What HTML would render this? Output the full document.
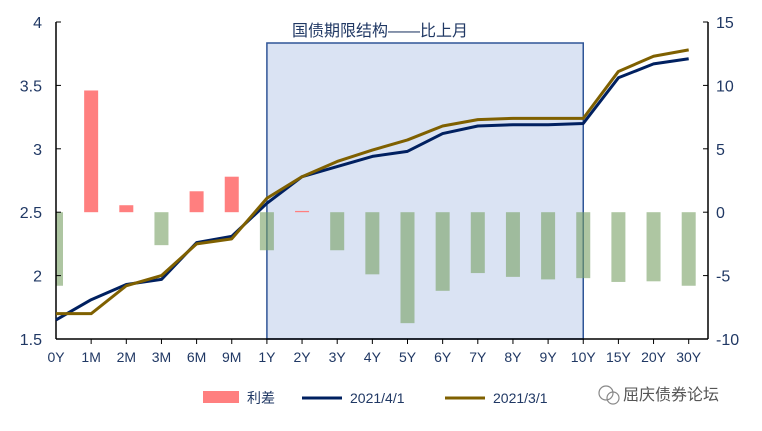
<!DOCTYPE html>
<html><head><meta charset="utf-8">
<style>
body{margin:0;background:#fff;}
svg text{font-family:"Liberation Sans","Noto Sans CJK SC",sans-serif;}
</style></head>
<body>
<svg id="c" width="762" height="426" xmlns="http://www.w3.org/2000/svg"></svg>
<script>
const categories=["0Y","1M","2M","3M","6M","9M","1Y","2Y","3Y","4Y","5Y","6Y","7Y","8Y","9Y","10Y","15Y","20Y","30Y"];
const spread=[-5.8,9.6,0.55,-2.6,1.65,2.8,-3.0,0.1,-3.0,-4.9,-8.75,-6.2,-4.8,-5.1,-5.3,-5.2,-5.5,-5.45,-5.8];
const apr=[1.65,1.81,1.93,1.97,2.26,2.31,2.57,2.78,2.86,2.94,2.98,3.12,3.18,3.19,3.19,3.20,3.56,3.67,3.71];
const mar=[1.70,1.70,1.92,2.00,2.25,2.29,2.61,2.78,2.90,2.99,3.07,3.18,3.23,3.24,3.24,3.24,3.61,3.73,3.78];
const leftTicks=["1.5","2","2.5","3","3.5","4"];
const rightTicks=["-10","-5","0","5","10","15"];
const NS="http://www.w3.org/2000/svg";
const svg=document.getElementById('c');
const X0=56,STEP=35.15,TOP=22,BOT=339,XR=708;
const xs=i=>X0+i*STEP;
const yl=v=>BOT-(v-1.5)/2.5*(BOT-TOP);
const yr=v=>BOT-(v+10)/25*(BOT-TOP);
function mk(t,a,p){const e=document.createElementNS(NS,t);for(const k in a)e.setAttribute(k,a[k]);(p||svg).appendChild(e);return e;}
// highlight box
const box=mk('rect',{x:xs(6),y:43,width:xs(15)-xs(6),height:BOT-43,fill:'#dae3f3',stroke:'#2f5597','stroke-width':1.5});


const tt=mk('text',{x:380,y:36,'text-anchor':'middle','font-size':16,fill:'#203864'});
tt.textContent='国债期限结构——比上月';


// bars
const clip=mk('clipPath',{id:'pc'});mk('rect',{x:X0,y:0,width:XR-X0,height:426},clip);
spread.forEach((v,i)=>{
 const y0=yr(0),y1=yr(v);
 const r=mk('rect',{x:xs(i)-7,y:Math.min(y0,y1),width:14,height:Math.max(1,Math.abs(y1-y0)),fill:v>=0?'#ff7f7f':'rgba(120,160,100,0.6)','clip-path':'url(#pc)'});
 
 
});
// axes
mk('line',{x1:X0,y1:TOP,x2:X0,y2:BOT,stroke:'#000','stroke-width':1.5});
mk('line',{x1:XR,y1:TOP,x2:XR,y2:BOT,stroke:'#000','stroke-width':1.5});
mk('line',{x1:X0,y1:BOT,x2:XR,y2:BOT,stroke:'#000','stroke-width':1.5});
leftTicks.forEach(t=>{const y=yl(+t);mk('line',{x1:X0,y1:y,x2:X0+5,y2:y,stroke:'#000'});
 const e=mk('text',{x:42,y:y+6,'text-anchor':'end','font-size':16,fill:'#203864'});e.textContent=t;
 });
rightTicks.forEach(t=>{const y=yr(+t);mk('line',{x1:XR-5,y1:y,x2:XR,y2:y,stroke:'#000'});
 const e=mk('text',{x:716,y:y+6,'font-size':16,fill:'#203864'});e.textContent=t;
 });
categories.forEach((c,i)=>{if(i>0)mk('line',{x1:xs(i),y1:BOT,x2:xs(i),y2:BOT+5,stroke:'#000'});
 const e=mk('text',{x:xs(i),y:362,'text-anchor':'middle','font-size':14,fill:'#203864'});e.textContent=c;
 });
// lines
function line(d,col,name){const p=mk('polyline',{points:d.map((v,i)=>xs(i)+','+yl(v)).join(' '),fill:'none',stroke:col,'stroke-width':3,'stroke-linejoin':'round'});
 }
line(apr,'#002060','line-2021-4-1');
line(mar,'#7f6000','line-2021-3-1');
// legend
const lg=mk('g',{});
mk('rect',{x:203,y:391,width:36,height:12,fill:'#ff7f7f'},lg);
let t=mk('text',{x:247,y:403,'font-size':14,fill:'#203864'},lg);t.textContent='利差';
mk('line',{x1:302,y1:398,x2:342,y2:398,stroke:'#002060','stroke-width':3},lg);
t=mk('text',{x:350,y:403,'font-size':14,fill:'#203864'},lg);t.textContent='2021/4/1';
mk('line',{x1:445,y1:398,x2:485,y2:398,stroke:'#7f6000','stroke-width':3},lg);
t=mk('text',{x:493,y:403,'font-size':14,fill:'#203864'},lg);t.textContent='2021/3/1';
// watermark
mk('circle',{cx:606,cy:393,r:7,fill:'none',stroke:'#888','stroke-width':1.2});
mk('circle',{cx:613,cy:398,r:6,fill:'none',stroke:'#888','stroke-width':1.2});
const w=mk('text',{x:623,y:400,'font-size':16,fill:'#555'});w.textContent='屈庆债券论坛';

</script>
</body></html>
